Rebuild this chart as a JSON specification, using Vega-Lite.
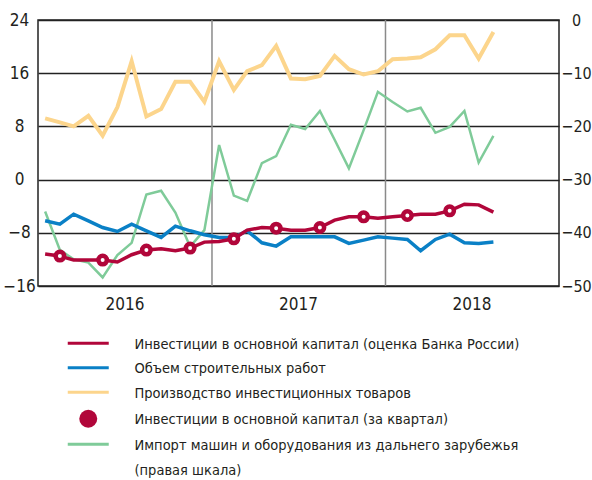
{
  "$schema": "https://vega.github.io/schema/vega-lite/v6.json",
  "width": 521,
  "height": 266,
  "autosize": {"type": "none"},
  "padding": {"left": 38, "top": 20, "right": 33, "bottom": 194},
  "config": {
    "font": "DejaVu Sans Condensed",
    "view": {"stroke": "#222222", "strokeWidth": 1.5},
    "axis": {"labelFont": "DejaVu Sans Condensed", "labelFontSize": 17, "labelColor": "#231f20", "ticks": false, "domain": false}
  },
  "data": {
    "values": [
      {"date": "2016-01-16", "red": -11.2, "blue": -6.2, "yellow": 9.2, "green": -36.0, "q": null},
      {"date": "2016-02-16", "red": -11.5, "blue": -6.7, "yellow": 8.6, "green": -43.2, "q": -11.5},
      {"date": "2016-03-16", "red": -12.1, "blue": -5.2, "yellow": 8.0, "green": -45.0, "q": null},
      {"date": "2016-04-16", "red": -12.1, "blue": -6.2, "yellow": 9.6, "green": -45.6, "q": null},
      {"date": "2016-05-16", "red": -12.1, "blue": -7.2, "yellow": 6.6, "green": -48.4, "q": -12.1},
      {"date": "2016-06-16", "red": -12.4, "blue": -7.8, "yellow": 10.9, "green": -44.2, "q": null},
      {"date": "2016-07-16", "red": -11.3, "blue": -6.7, "yellow": 17.8, "green": -41.9, "q": null},
      {"date": "2016-08-16", "red": -10.6, "blue": -7.7, "yellow": 9.5, "green": -32.8, "q": -10.6},
      {"date": "2016-09-16", "red": -10.4, "blue": -8.7, "yellow": 10.6, "green": -32.1, "q": null},
      {"date": "2016-10-16", "red": -10.7, "blue": -7.0, "yellow": 14.7, "green": -36.2, "q": null},
      {"date": "2016-11-16", "red": -10.3, "blue": -7.7, "yellow": 14.7, "green": -42.6, "q": -10.3},
      {"date": "2016-12-16", "red": -9.4, "blue": -8.3, "yellow": 11.7, "green": -39.5, "q": null},
      {"date": "2017-01-16", "red": -9.3, "blue": -8.7, "yellow": 17.8, "green": -23.5, "q": null},
      {"date": "2017-02-16", "red": -8.9, "blue": -8.7, "yellow": 13.5, "green": -33.0, "q": -8.9},
      {"date": "2017-03-16", "red": -7.6, "blue": -7.7, "yellow": 16.3, "green": -34.0, "q": null},
      {"date": "2017-04-16", "red": -7.2, "blue": -9.5, "yellow": 17.2, "green": -26.9, "q": null},
      {"date": "2017-05-16", "red": -7.3, "blue": -10.0, "yellow": 20.1, "green": -25.6, "q": -7.3},
      {"date": "2017-06-16", "red": -7.6, "blue": -8.6, "yellow": 15.2, "green": -19.7, "q": null},
      {"date": "2017-07-16", "red": -7.6, "blue": -8.6, "yellow": 15.1, "green": -20.5, "q": null},
      {"date": "2017-08-16", "red": -7.2, "blue": -8.6, "yellow": 15.6, "green": -17.1, "q": -7.2},
      {"date": "2017-09-16", "red": -6.1, "blue": -8.6, "yellow": 18.6, "green": -22.5, "q": null},
      {"date": "2017-10-16", "red": -5.6, "blue": -9.6, "yellow": 16.6, "green": -27.9, "q": null},
      {"date": "2017-11-16", "red": -5.6, "blue": -9.1, "yellow": 15.8, "green": -20.7, "q": -5.6},
      {"date": "2017-12-16", "red": -5.8, "blue": -8.6, "yellow": 16.3, "green": -13.5, "q": null},
      {"date": "2018-01-16", "red": -5.6, "blue": -8.8, "yellow": 18.1, "green": -15.4, "q": null},
      {"date": "2018-02-16", "red": -5.4, "blue": -9.0, "yellow": 18.2, "green": -17.2, "q": -5.4},
      {"date": "2018-03-16", "red": -5.2, "blue": -10.7, "yellow": 18.4, "green": -16.5, "q": null},
      {"date": "2018-04-16", "red": -5.2, "blue": -9.0, "yellow": 19.6, "green": -21.2, "q": null},
      {"date": "2018-05-16", "red": -4.7, "blue": -8.2, "yellow": 21.7, "green": -20.1, "q": -4.7},
      {"date": "2018-06-16", "red": -3.7, "blue": -9.5, "yellow": 21.7, "green": -17.1, "q": null},
      {"date": "2018-07-16", "red": -3.8, "blue": -9.6, "yellow": 18.2, "green": -26.8, "q": null},
      {"date": "2018-08-16", "red": -4.9, "blue": -9.4, "yellow": 22.2, "green": -21.8, "q": null}
    ]
  },
  "encoding": {
    "x": {
      "field": "date",
      "type": "temporal",
      "scale": {"type": "utc", "domain": [{"year": 2016, "month": 1, "date": 1, "utc": true}, {"year": 2019, "month": 1, "date": 1, "utc": true}]},
      "axis": {
        "values": [{"year": 2016, "month": 7, "date": 1, "utc": true}, {"year": 2017, "month": 7, "date": 1, "utc": true}, {"year": 2018, "month": 7, "date": 1, "utc": true}],
        "labelExpr": "utcFormat(datum.value, '%Y')",
        "grid": false,
        "labelPadding": 10,
        "title": null
      }
    }
  },
  "layer": [
    {
      "data": {"values": [{"date": "2017-01-01"}, {"date": "2018-01-01"}]},
      "mark": {"type": "rule", "color": "#8a8a8a", "strokeWidth": 1.5},
      "encoding": {}
    },
    {
      "mark": {"type": "line", "strokeWidth": 2.5},
      "encoding": {
        "y": {
          "field": "green", "type": "quantitative",
          "scale": {"domain": [-50, 0], "nice": false, "zero": false},
          "axis": {"orient": "right", "values": [-50, -40, -30, -20, -10, 0], "grid": false, "labelAlign": "center", "labelPadding": 17, "labelFontSize": 16, "title": null}
        },
        "color": {
          "datum": "Импорт машин и оборудования из дальнего зарубежья|(правая шкала)",
          "scale": {
            "domain": [
              "Инвестиции в основной капитал (оценка Банка России)",
              "Объем строительных работ",
              "Производство инвестиционных товаров",
              "Инвестиции в основной капитал (за квартал)",
              "Импорт машин и оборудования из дальнего зарубежья|(правая шкала)"
            ],
            "range": ["#b1063a", "#0a80c6", "#fcd58c", "#b1063a", "#7fcb99"]
          },
          "legend": {
            "orient": "none",
            "legendX": 43,
            "legendY": 316,
            "direction": "vertical",
            "title": null,
            "padding": 0,
            "symbolType": "stroke",
            "symbolSize": 100,
            "symbolStrokeWidth": 3,
            "labelFont": "DejaVu Sans Condensed",
            "labelFontSize": 14.5,
            "labelColor": "#231f20",
            "labelOffset": 39,
            "labelLimit": 0,
            "rowPadding": 8.5,
            "labelBaseline": "alphabetic",
            "labelLineHeight": 25,
            "labelExpr": "split(datum.label, '|')",
            "encode": {
              "labels": {"update": {"dy": {"value": 5.3}, "lineHeight": {"value": 25}}},
              "symbols": {
                "update": {
                  "shape": {"signal": "datum.value === 'Инвестиции в основной капитал (за квартал)' ? 'circle' : 'stroke'"},
                  "size": {"signal": "datum.value === 'Инвестиции в основной капитал (за квартал)' ? 324 : 1681"},
                  "fill": {"signal": "datum.value === 'Инвестиции в основной капитал (за квартал)' ? '#b1063a' : 'transparent'"},
                  "strokeWidth": {"signal": "datum.value === 'Инвестиции в основной капитал (за квартал)' ? 0 : 3"}
                }
              }
            }
          }
        }
      }
    },
    {
      "layer": [
        {
          "mark": {"type": "line", "strokeWidth": 4},
          "encoding": {
            "y": {"field": "yellow", "type": "quantitative", "scale": {"domain": [-16, 24], "nice": false, "zero": false},
              "axis": {"orient": "left", "values": [-16, -8, 0, 8, 16, 24], "grid": true, "gridColor": "#222222", "gridWidth": 1.5, "labelAlign": "center", "labelPadding": 19, "title": null}},
            "color": {"datum": "Производство инвестиционных товаров"}
          }
        },
        {
          "mark": {"type": "line", "strokeWidth": 3.5},
          "encoding": {
            "y": {"field": "blue", "type": "quantitative", "scale": {"domain": [-16, 24], "nice": false, "zero": false},
              "axis": {"orient": "left", "values": [-16, -8, 0, 8, 16, 24], "grid": true, "gridColor": "#222222", "gridWidth": 1.5, "labelAlign": "center", "labelPadding": 19, "title": null}},
            "color": {"datum": "Объем строительных работ"}
          }
        },
        {
          "mark": {"type": "line", "strokeWidth": 3.5},
          "encoding": {
            "y": {"field": "red", "type": "quantitative", "scale": {"domain": [-16, 24], "nice": false, "zero": false},
              "axis": {"orient": "left", "values": [-16, -8, 0, 8, 16, 24], "grid": true, "gridColor": "#222222", "gridWidth": 1.5, "labelAlign": "center", "labelPadding": 19, "title": null}},
            "color": {"datum": "Инвестиции в основной капитал (оценка Банка России)"}
          }
        },
        {
          "mark": {"type": "point", "filled": false, "fill": "#ffffff", "strokeWidth": 4.5, "size": 72, "opacity": 1},
          "encoding": {
            "y": {"field": "q", "type": "quantitative", "scale": {"domain": [-16, 24], "nice": false, "zero": false},
              "axis": {"orient": "left", "values": [-16, -8, 0, 8, 16, 24], "grid": true, "gridColor": "#222222", "gridWidth": 1.5, "labelAlign": "center", "labelPadding": 19, "title": null}},
            "color": {"datum": "Инвестиции в основной капитал (за квартал)"}
          }
        }
      ]
    }
  ],
  "resolve": {"scale": {"y": "independent"}}
}
